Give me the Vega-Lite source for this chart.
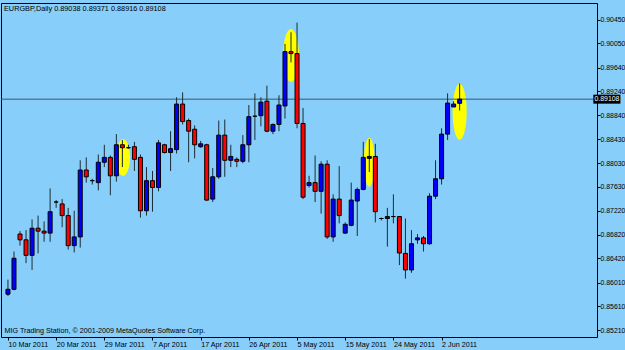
{
  "$schema": "https://vega.github.io/schema/vega-lite/v6.json",
  "width": 596,
  "height": 334,
  "autosize": {"type": "none"},
  "padding": {"left": 1, "top": 3, "right": 28, "bottom": 13},
  "background": "#87CEFA",
  "config": {
    "view": {"stroke": "#000000", "strokeWidth": 1},
    "font": "Liberation Sans",
    "axis": {"labelFont": "Liberation Sans", "titleFont": "Liberation Sans"},
    "axisX": {
      "labelExpr": "['10 Mar 2011','20 Mar 2011','29 Mar 2011','7 Apr 2011','17 Apr 2011','26 Apr 2011','5 May 2011','15 May 2011','24 May 2011','2 Jun 2011'][round(datum.value/8)]",
      "labelAlign": "left", "labelFontSize": 7.2, "labelColor": "#000000", "labelPadding": 0,
      "labelFlush": false, "labelOverlap": false,
      "tickColor": "#000000", "tickSize": 3, "domain": false, "grid": false,
      "titleX": 3, "titleY": -5, "titleAlign": "left", "titleAnchor": "start", "titleBaseline": "alphabetic",
      "titleFontSize": 7.2, "titleFontWeight": "normal", "titleColor": "#000000"
    },
    "axisY": {
      "format": ".5f", "labelFontSize": 6.9, "labelColor": "#000000", "labelPadding": 0,
      "tickColor": "#000000", "tickSize": 3, "domain": false, "grid": false, "labelOverlap": false
    }
  },
  "title": {
    "text": "EURGBP,Daily  0.89038 0.89371 0.88916 0.89108",
    "anchor": "start",
    "frame": "group",
    "offset": -9,
    "dx": 3,
    "fontSize": 7.3,
    "fontWeight": "normal",
    "color": "#000000",
    "font": "Liberation Sans"
  },
  "datasets": {
    "candles": [
      {"i": 0, "d": "2011-03-10", "o": 0.85816, "h": 0.86061, "l": 0.85783, "c": 0.85898},
      {"i": 1, "d": "2011-03-11", "o": 0.85898, "h": 0.86536, "l": 0.85881, "c": 0.86422},
      {"i": 2, "d": "2011-03-13", "o": 0.86831, "h": 0.86880, "l": 0.86635, "c": 0.86733},
      {"i": 3, "d": "2011-03-14", "o": 0.86733, "h": 0.86897, "l": 0.86340, "c": 0.86471},
      {"i": 4, "d": "2011-03-15", "o": 0.86471, "h": 0.87077, "l": 0.86225, "c": 0.86929},
      {"i": 5, "d": "2011-03-16", "o": 0.86929, "h": 0.87142, "l": 0.86504, "c": 0.86880},
      {"i": 6, "d": "2011-03-17", "o": 0.86880, "h": 0.87044, "l": 0.86700, "c": 0.86847},
      {"i": 7, "d": "2011-03-18", "o": 0.86847, "h": 0.87601, "l": 0.86700, "c": 0.87208},
      {"i": 8, "d": "2011-03-20", "o": 0.87371, "h": 0.87404, "l": 0.87273, "c": 0.87371},
      {"i": 9, "d": "2011-03-21", "o": 0.87339, "h": 0.87421, "l": 0.86946, "c": 0.87142},
      {"i": 10, "d": "2011-03-22", "o": 0.87142, "h": 0.87273, "l": 0.86569, "c": 0.86635},
      {"i": 11, "d": "2011-03-23", "o": 0.86635, "h": 0.87224, "l": 0.86520, "c": 0.86782},
      {"i": 12, "d": "2011-03-24", "o": 0.86782, "h": 0.88076, "l": 0.86602, "c": 0.87912},
      {"i": 13, "d": "2011-03-25", "o": 0.87912, "h": 0.88125, "l": 0.87699, "c": 0.87797},
      {"i": 14, "d": "2011-03-27", "o": 0.87732, "h": 0.87764, "l": 0.87666, "c": 0.87732},
      {"i": 15, "d": "2011-03-28", "o": 0.87699, "h": 0.88174, "l": 0.87568, "c": 0.88043},
      {"i": 16, "d": "2011-03-29", "o": 0.88043, "h": 0.88338, "l": 0.87961, "c": 0.88125},
      {"i": 17, "d": "2011-03-30", "o": 0.88125, "h": 0.88157, "l": 0.87486, "c": 0.87814},
      {"i": 18, "d": "2011-03-31", "o": 0.87814, "h": 0.88518, "l": 0.87715, "c": 0.88338},
      {"i": 19, "d": "2011-04-01", "o": 0.88338, "h": 0.88419, "l": 0.87961, "c": 0.88288},
      {"i": 20, "d": "2011-04-03", "o": 0.88288, "h": 0.88338, "l": 0.88272, "c": 0.88288},
      {"i": 21, "d": "2011-04-04", "o": 0.88305, "h": 0.88387, "l": 0.87896, "c": 0.88092},
      {"i": 22, "d": "2011-04-05", "o": 0.88125, "h": 0.88174, "l": 0.87109, "c": 0.87224},
      {"i": 23, "d": "2011-04-06", "o": 0.87224, "h": 0.87961, "l": 0.87142, "c": 0.87732},
      {"i": 24, "d": "2011-04-07", "o": 0.87732, "h": 0.87896, "l": 0.87208, "c": 0.87617},
      {"i": 25, "d": "2011-04-08", "o": 0.87617, "h": 0.88419, "l": 0.87552, "c": 0.88370},
      {"i": 26, "d": "2011-04-10", "o": 0.88338, "h": 0.88354, "l": 0.88190, "c": 0.88207},
      {"i": 27, "d": "2011-04-11", "o": 0.88207, "h": 0.88567, "l": 0.87896, "c": 0.88272},
      {"i": 28, "d": "2011-04-12", "o": 0.88256, "h": 0.89140, "l": 0.88190, "c": 0.89025},
      {"i": 29, "d": "2011-04-13", "o": 0.89025, "h": 0.89222, "l": 0.88681, "c": 0.88731},
      {"i": 30, "d": "2011-04-14", "o": 0.88747, "h": 0.88780, "l": 0.88043, "c": 0.88567},
      {"i": 31, "d": "2011-04-15", "o": 0.88600, "h": 0.88665, "l": 0.88108, "c": 0.88338},
      {"i": 32, "d": "2011-04-17", "o": 0.88305, "h": 0.88403, "l": 0.88288, "c": 0.88354},
      {"i": 33, "d": "2011-04-18", "o": 0.88338, "h": 0.88354, "l": 0.87388, "c": 0.87404},
      {"i": 34, "d": "2011-04-19", "o": 0.87421, "h": 0.87945, "l": 0.87371, "c": 0.87797},
      {"i": 35, "d": "2011-04-20", "o": 0.87797, "h": 0.88747, "l": 0.87764, "c": 0.88501},
      {"i": 36, "d": "2011-04-21", "o": 0.88501, "h": 0.88763, "l": 0.87797, "c": 0.88076},
      {"i": 37, "d": "2011-04-22", "o": 0.88076, "h": 0.88338, "l": 0.87961, "c": 0.88141},
      {"i": 38, "d": "2011-04-24", "o": 0.88092, "h": 0.88125, "l": 0.87961, "c": 0.88059},
      {"i": 39, "d": "2011-04-25", "o": 0.88059, "h": 0.88501, "l": 0.88026, "c": 0.88338},
      {"i": 40, "d": "2011-04-26", "o": 0.88338, "h": 0.89009, "l": 0.88043, "c": 0.88812},
      {"i": 41, "d": "2011-04-27", "o": 0.88820, "h": 0.89205, "l": 0.88419, "c": 0.88820},
      {"i": 42, "d": "2011-04-28", "o": 0.88829, "h": 0.89140, "l": 0.88649, "c": 0.89058},
      {"i": 43, "d": "2011-04-29", "o": 0.89074, "h": 0.89336, "l": 0.88550, "c": 0.88567},
      {"i": 44, "d": "2011-05-01", "o": 0.88567, "h": 0.88698, "l": 0.88518, "c": 0.88681},
      {"i": 45, "d": "2011-05-02", "o": 0.88681, "h": 0.89173, "l": 0.88567, "c": 0.89009},
      {"i": 46, "d": "2011-05-03", "o": 0.88993, "h": 0.90041, "l": 0.88780, "c": 0.89910},
      {"i": 47, "d": "2011-05-04", "o": 0.89910, "h": 0.90237, "l": 0.89729, "c": 0.89877},
      {"i": 48, "d": "2011-05-05", "o": 0.89877, "h": 0.90401, "l": 0.88616, "c": 0.88698},
      {"i": 49, "d": "2011-05-06", "o": 0.88698, "h": 0.88960, "l": 0.87421, "c": 0.87453},
      {"i": 50, "d": "2011-05-08", "o": 0.87650, "h": 0.87814, "l": 0.87617, "c": 0.87699},
      {"i": 51, "d": "2011-05-09", "o": 0.87699, "h": 0.88157, "l": 0.87371, "c": 0.87552},
      {"i": 52, "d": "2011-05-10", "o": 0.87552, "h": 0.88059, "l": 0.87175, "c": 0.88010},
      {"i": 53, "d": "2011-05-11", "o": 0.88010, "h": 0.88076, "l": 0.86749, "c": 0.86782},
      {"i": 54, "d": "2011-05-12", "o": 0.86782, "h": 0.87502, "l": 0.86700, "c": 0.87421},
      {"i": 55, "d": "2011-05-13", "o": 0.87421, "h": 0.87977, "l": 0.87011, "c": 0.87142},
      {"i": 56, "d": "2011-05-15", "o": 0.86847, "h": 0.87028, "l": 0.86831, "c": 0.86995},
      {"i": 57, "d": "2011-05-16", "o": 0.86978, "h": 0.87699, "l": 0.86962, "c": 0.87404},
      {"i": 58, "d": "2011-05-17", "o": 0.87388, "h": 0.87617, "l": 0.86798, "c": 0.87584},
      {"i": 59, "d": "2011-05-18", "o": 0.87584, "h": 0.88387, "l": 0.87568, "c": 0.88125},
      {"i": 60, "d": "2011-05-19", "o": 0.88108, "h": 0.88436, "l": 0.87879, "c": 0.88141},
      {"i": 61, "d": "2011-05-20", "o": 0.88141, "h": 0.88354, "l": 0.87028, "c": 0.87208},
      {"i": 62, "d": "2011-05-22", "o": 0.87093, "h": 0.87109, "l": 0.87060, "c": 0.87093},
      {"i": 63, "d": "2011-05-23", "o": 0.87093, "h": 0.87273, "l": 0.86618, "c": 0.87126},
      {"i": 64, "d": "2011-05-24", "o": 0.87126, "h": 0.87502, "l": 0.87011, "c": 0.87126},
      {"i": 65, "d": "2011-05-25", "o": 0.87126, "h": 0.87126, "l": 0.86307, "c": 0.86510},
      {"i": 66, "d": "2011-05-26", "o": 0.86504, "h": 0.87093, "l": 0.86078, "c": 0.86225},
      {"i": 67, "d": "2011-05-27", "o": 0.86225, "h": 0.86897, "l": 0.86176, "c": 0.86667},
      {"i": 68, "d": "2011-05-29", "o": 0.86733, "h": 0.86831, "l": 0.86667, "c": 0.86766},
      {"i": 69, "d": "2011-05-30", "o": 0.86766, "h": 0.86798, "l": 0.86536, "c": 0.86667},
      {"i": 70, "d": "2011-05-31", "o": 0.86667, "h": 0.87519, "l": 0.86651, "c": 0.87470},
      {"i": 71, "d": "2011-06-01", "o": 0.87470, "h": 0.88076, "l": 0.87421, "c": 0.87764},
      {"i": 72, "d": "2011-06-02", "o": 0.87764, "h": 0.88616, "l": 0.87666, "c": 0.88518},
      {"i": 73, "d": "2011-06-03", "o": 0.88518, "h": 0.89205, "l": 0.88419, "c": 0.89042},
      {"i": 74, "d": "2011-06-05", "o": 0.88976, "h": 0.89074, "l": 0.88976, "c": 0.89025},
      {"i": 75, "d": "2011-06-06", "o": 0.89038, "h": 0.89371, "l": 0.88916, "c": 0.89108}
    ],
    "bid": [{"price": 0.89108}]
  },
  "layer": [
    {
      "data": {"values": [{"i": 19.1, "p": 0.88125}]},
      "mark": {"type": "point", "filled": true, "fill": "#FFFF00", "opacity": 1, "strokeWidth": 0, "size": 1369,
        "shape": "M0,-1C0.209,-1,0.378,-0.552,0.378,0C0.378,0.552,0.209,1,0,1C-0.209,1,-0.378,0.552,-0.378,0C-0.378,-0.552,-0.209,-1,0,-1Z"},
      "encoding": {
        "x": {"field": "i", "type": "quantitative", "scale": {"domain": [-0.3265, 96.98], "nice": false, "zero": false}, "axis": {"title": "MIG Trading Station, © 2001-2009 MetaQuotes Software Corp.", "values": [0, 8, 16, 24, 32, 40, 48, 56, 64, 72]}},
        "y": {"field": "p", "type": "quantitative", "scale": {"domain": [0.85177, 0.90647], "nice": false, "zero": false}, "axis": {"orient": "right", "title": null, "values": [0.8521, 0.8561, 0.8601, 0.8642, 0.8682, 0.8722, 0.8763, 0.8803, 0.8843, 0.8884, 0.8924, 0.8964, 0.9005, 0.9045]}}
      }
    },
    {
      "data": {"values": [{"i": 47, "p": 0.89844}]},
      "mark": {"type": "point", "filled": true, "fill": "#FFFF00", "opacity": 1, "strokeWidth": 0, "size": 2809,
        "shape": "M0,-1C0.166,-1,0.3,-0.552,0.3,0C0.3,0.552,0.166,1,0,1C-0.166,1,-0.3,0.552,-0.3,0C-0.3,-0.552,-0.166,-1,0,-1Z"},
      "encoding": {
        "x": {"field": "i", "type": "quantitative", "scale": {"domain": [-0.3265, 96.98], "nice": false, "zero": false}, "axis": {"title": "MIG Trading Station, © 2001-2009 MetaQuotes Software Corp.", "values": [0, 8, 16, 24, 32, 40, 48, 56, 64, 72]}},
        "y": {"field": "p", "type": "quantitative", "scale": {"domain": [0.85177, 0.90647], "nice": false, "zero": false}, "axis": {"orient": "right", "title": null, "values": [0.8521, 0.8561, 0.8601, 0.8642, 0.8682, 0.8722, 0.8763, 0.8803, 0.8843, 0.8884, 0.8924, 0.8964, 0.9005, 0.9045]}}
      }
    },
    {
      "data": {"values": [{"i": 60, "p": 0.88043}]},
      "mark": {"type": "point", "filled": true, "fill": "#FFFF00", "opacity": 1, "strokeWidth": 0, "size": 2401,
        "shape": "M0,-1C0.124,-1,0.224,-0.552,0.224,0C0.224,0.552,0.124,1,0,1C-0.124,1,-0.224,0.552,-0.224,0C-0.224,-0.552,-0.124,-1,0,-1Z"},
      "encoding": {
        "x": {"field": "i", "type": "quantitative", "scale": {"domain": [-0.3265, 96.98], "nice": false, "zero": false}, "axis": {"title": "MIG Trading Station, © 2001-2009 MetaQuotes Software Corp.", "values": [0, 8, 16, 24, 32, 40, 48, 56, 64, 72]}},
        "y": {"field": "p", "type": "quantitative", "scale": {"domain": [0.85177, 0.90647], "nice": false, "zero": false}, "axis": {"orient": "right", "title": null, "values": [0.8521, 0.8561, 0.8601, 0.8642, 0.8682, 0.8722, 0.8763, 0.8803, 0.8843, 0.8884, 0.8924, 0.8964, 0.9005, 0.9045]}}
      }
    },
    {
      "data": {"values": [{"i": 75, "p": 0.88894}]},
      "mark": {"type": "point", "filled": true, "fill": "#FFFF00", "opacity": 1, "strokeWidth": 0, "size": 3136,
        "shape": "M0,-1C0.138,-1,0.25,-0.552,0.25,0C0.25,0.552,0.138,1,0,1C-0.138,1,-0.25,0.552,-0.25,0C-0.25,-0.552,-0.138,-1,0,-1Z"},
      "encoding": {
        "x": {"field": "i", "type": "quantitative", "scale": {"domain": [-0.3265, 96.98], "nice": false, "zero": false}, "axis": {"title": "MIG Trading Station, © 2001-2009 MetaQuotes Software Corp.", "values": [0, 8, 16, 24, 32, 40, 48, 56, 64, 72]}},
        "y": {"field": "p", "type": "quantitative", "scale": {"domain": [0.85177, 0.90647], "nice": false, "zero": false}, "axis": {"orient": "right", "title": null, "values": [0.8521, 0.8561, 0.8601, 0.8642, 0.8682, 0.8722, 0.8763, 0.8803, 0.8843, 0.8884, 0.8924, 0.8964, 0.9005, 0.9045]}}
      }
    },
    {
      "data": {"name": "bid"},
      "mark": {"type": "rule", "color": "#3d5666", "strokeWidth": 1},
      "encoding": {
        "y": {"field": "price", "type": "quantitative", "scale": {"domain": [0.85177, 0.90647], "nice": false, "zero": false}, "axis": {"orient": "right", "title": null, "values": [0.8521, 0.8561, 0.8601, 0.8642, 0.8682, 0.8722, 0.8763, 0.8803, 0.8843, 0.8884, 0.8924, 0.8964, 0.9005, 0.9045]}}
      }
    },
    {
      "data": {"name": "candles"},
      "mark": {"type": "rule", "color": "#1c2c36", "strokeWidth": 1},
      "encoding": {
        "x": {"field": "i", "type": "quantitative", "scale": {"domain": [-0.3265, 96.98], "nice": false, "zero": false}, "axis": {"title": "MIG Trading Station, © 2001-2009 MetaQuotes Software Corp.", "values": [0, 8, 16, 24, 32, 40, 48, 56, 64, 72]}},
        "y": {"field": "l", "type": "quantitative", "scale": {"domain": [0.85177, 0.90647], "nice": false, "zero": false}, "axis": {"orient": "right", "title": null, "values": [0.8521, 0.8561, 0.8601, 0.8642, 0.8682, 0.8722, 0.8763, 0.8803, 0.8843, 0.8884, 0.8924, 0.8964, 0.9005, 0.9045]}},
        "y2": {"field": "h"}
      }
    },
    {
      "data": {"name": "candles"},
      "mark": {"type": "bar", "size": 4, "stroke": "#000000", "strokeWidth": 1},
      "encoding": {
        "x": {"field": "i", "type": "quantitative", "scale": {"domain": [-0.3265, 96.98], "nice": false, "zero": false}, "axis": {"title": "MIG Trading Station, © 2001-2009 MetaQuotes Software Corp.", "values": [0, 8, 16, 24, 32, 40, 48, 56, 64, 72]}},
        "y": {"field": "o", "type": "quantitative", "scale": {"domain": [0.85177, 0.90647], "nice": false, "zero": false}, "axis": {"orient": "right", "title": null, "values": [0.8521, 0.8561, 0.8601, 0.8642, 0.8682, 0.8722, 0.8763, 0.8803, 0.8843, 0.8884, 0.8924, 0.8964, 0.9005, 0.9045]}},
        "y2": {"field": "c"},
        "fill": {
          "condition": [
            {"test": "datum.c > datum.o", "value": "#0000FF"},
            {"test": "datum.c < datum.o", "value": "#FF0000"}
          ],
          "value": "#000000"
        }
      }
    },
    {
      "data": {"name": "bid"},
      "mark": {"type": "bar", "orient": "horizontal", "size": 9, "fill": "#000000"},
      "encoding": {
        "x": {"datum": 97.2, "type": "quantitative", "scale": {"domain": [-0.3265, 96.98], "nice": false, "zero": false}, "axis": {"title": "MIG Trading Station, © 2001-2009 MetaQuotes Software Corp.", "values": [0, 8, 16, 24, 32, 40, 48, 56, 64, 72]}},
        "x2": {"datum": 101.7},
        "y": {"field": "price", "type": "quantitative", "scale": {"domain": [0.85177, 0.90647], "nice": false, "zero": false}, "axis": {"orient": "right", "title": null, "values": [0.8521, 0.8561, 0.8601, 0.8642, 0.8682, 0.8722, 0.8763, 0.8803, 0.8843, 0.8884, 0.8924, 0.8964, 0.9005, 0.9045]}}
      }
    },
    {
      "data": {"name": "bid"},
      "mark": {"type": "text", "align": "left", "baseline": "middle", "fontSize": 6.9, "color": "#FFFFFF", "font": "Liberation Sans"},
      "encoding": {
        "x": {"datum": 97.4, "type": "quantitative", "scale": {"domain": [-0.3265, 96.98], "nice": false, "zero": false}, "axis": {"title": "MIG Trading Station, © 2001-2009 MetaQuotes Software Corp.", "values": [0, 8, 16, 24, 32, 40, 48, 56, 64, 72]}},
        "y": {"field": "price", "type": "quantitative", "scale": {"domain": [0.85177, 0.90647], "nice": false, "zero": false}, "axis": {"orient": "right", "title": null, "values": [0.8521, 0.8561, 0.8601, 0.8642, 0.8682, 0.8722, 0.8763, 0.8803, 0.8843, 0.8884, 0.8924, 0.8964, 0.9005, 0.9045]}},
        "text": {"field": "price", "type": "quantitative", "format": ".5f"}
      }
    }
  ]
}
